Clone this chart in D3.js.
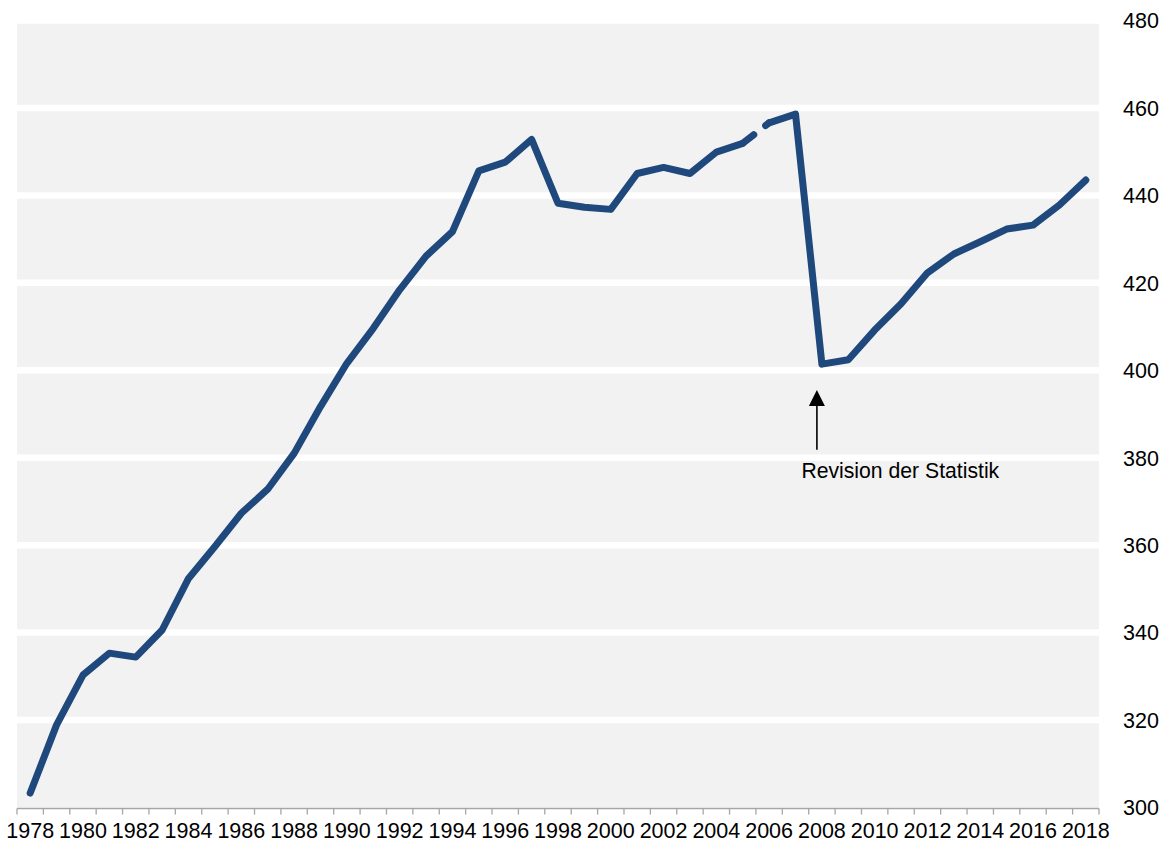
<!DOCTYPE html>
<html>
<head>
<meta charset="utf-8">
<script src="https://cdn.jsdelivr.net/npm/d3@7"></script>
<style>
  body { margin: 0; background: #ffffff; }
  svg text { font-family: "Liberation Sans", Arial, sans-serif; fill: #000000; }
</style>
</head>
<body>
<div id="chart"></div>
<script>
////////////////////////////////////////////////////////////////////////
// data
////////////////////////////////////////////////////////////////////////
var years = d3.range(1978, 2019);

// old statistic, 1978 - 2005
var oldYears  = [1978, 1979, 1980, 1981, 1982, 1983, 1984, 1985, 1986, 1987,
                 1988, 1989, 1990, 1991, 1992, 1993, 1994, 1995, 1996, 1997,
                 1998, 1999, 2000, 2001, 2002, 2003, 2004, 2005];
var oldValues = [303.3, 318.9, 330.3, 335.3, 334.4, 340.6, 352.4, 359.7, 367.3, 372.8,
                 381.0, 391.7, 401.6, 409.6, 418.4, 426.1, 431.7, 445.6, 447.6, 452.8,
                 438.2, 437.3, 436.8, 445.0, 446.4, 445.0, 449.9, 451.9];

// 2006 - 2018 (revision after 2007)
var newYears  = [2006, 2007, 2008, 2009, 2010, 2011, 2012, 2013, 2014, 2015,
                 2016, 2017, 2018];
var newValues = [456.6, 458.6, 401.4, 402.4, 409.2, 415.2, 422.3, 426.6, 429.4, 432.3,
                 433.2, 437.8, 443.5];

var yTicks = [300, 320, 340, 360, 380, 400, 420, 440, 460, 480];
var xLabelYears = d3.range(1978, 2019, 2);

var annoText = "Revision der Statistik";
var annoYear = 2008;
var annoTip = 395.5;
var annoTail = 381.8;


////////////////////////////////////////////////////////////////////////
// draw
////////////////////////////////////////////////////////////////////////
function drawChart()
  {
  var width = 1166;
  var height = 843;
  var lineColor = "#1f497d";

  var svg = d3.select("#chart")
    .append("svg")
    .attr("width", width)
    .attr("height", height);

  var x = d3.scaleBand().domain(years).range([17, 1099]).padding(0);
  var y = d3.scaleLinear().domain([300, 480]).range([807.5, 20.5]);
  var cx = function(yr) { return x(yr) + x.bandwidth() / 2; };

  //plot background
  svg.append("rect")
    .attr("x", x.range()[0])
    .attr("y", y(480))
    .attr("width", x.range()[1] - x.range()[0])
    .attr("height", y(300) - y(480))
    .attr("fill", "#f2f2f2");

  //white gridlines
  svg.append("g")
    .selectAll("line")
    .data(yTicks.filter(function(d) { return d > 300; }))
    .enter()
    .append("line")
    .attr("x1", x.range()[0])
    .attr("x2", x.range()[1])
    .attr("y1", function(d) { return y(d); })
    .attr("y2", function(d) { return y(d); })
    .attr("stroke", "#ffffff")
    .attr("stroke-width", 6.5);

  //y labels on the right
  svg.append("g")
    .selectAll("text")
    .data(yTicks)
    .enter()
    .append("text")
    .attr("x", 1123)
    .attr("y", function(d) { return y(d) + 7.8; })
    .attr("font-size", "21.5px")
    .text(function(d) { return d; });

  //x axis line and ticks at category borders
  var axisY = y(300) + 1;
  svg.append("line")
    .attr("x1", x.range()[0])
    .attr("x2", x.range()[1])
    .attr("y1", axisY)
    .attr("y2", axisY)
    .attr("stroke", "#a6a6a6")
    .attr("stroke-width", 1.3);

  var tickPos = years.map(function(d) { return x(d); }).concat([x.range()[1]]);
  svg.append("g")
    .selectAll("line")
    .data(tickPos)
    .enter()
    .append("line")
    .attr("x1", function(d) { return d; })
    .attr("x2", function(d) { return d; })
    .attr("y1", axisY)
    .attr("y2", axisY + 6)
    .attr("stroke", "#a6a6a6")
    .attr("stroke-width", 1.3);

  svg.append("g")
    .selectAll("text")
    .data(xLabelYears)
    .enter()
    .append("text")
    .attr("x", function(d) { return cx(d); })
    .attr("y", 838)
    .attr("text-anchor", "middle")
    .attr("font-size", "21.5px")
    .text(function(d) { return d; });

  //series lines
  var line = d3.line()
    .x(function(d) { return cx(d[0]); })
    .y(function(d) { return y(d[1]); });

  var oldData = d3.zip(oldYears, oldValues);
  var newData = d3.zip(newYears, newValues);
  var bridge = [oldData[oldData.length - 1], newData[0]];

  [oldData, newData].forEach(function(ser)
    {
    svg.append("path")
      .attr("d", line(ser))
      .attr("fill", "none")
      .attr("stroke", lineColor)
      .attr("stroke-width", 7)
      .attr("stroke-linejoin", "round")
      .attr("stroke-linecap", "round");
    });

  //broken piece between the two statistics
  svg.append("path")
    .attr("d", line(bridge))
    .attr("fill", "none")
    .attr("stroke", lineColor)
    .attr("stroke-width", 7)
    .attr("stroke-linecap", "round")
    .attr("stroke-dasharray", "14,15");

  //annotation arrow
  var ax = cx(annoYear) - 5;
  var tip = y(annoTip);
  svg.append("line")
    .attr("x1", ax)
    .attr("x2", ax)
    .attr("y1", y(annoTail))
    .attr("y2", tip + 14)
    .attr("stroke", "#000000")
    .attr("stroke-width", 1.6);

  svg.append("path")
    .attr("d", "M" + ax + "," + tip + "L" + (ax + 8) + "," + (tip + 16) + "L" + (ax - 8) + "," + (tip + 16) + "Z")
    .attr("fill", "#000000");

  svg.append("text")
    .attr("x", ax - 15.5)
    .attr("y", 478)
    .attr("font-size", "21.2px")
    .text(annoText);
  }

drawChart();
</script>
</body>
</html>
